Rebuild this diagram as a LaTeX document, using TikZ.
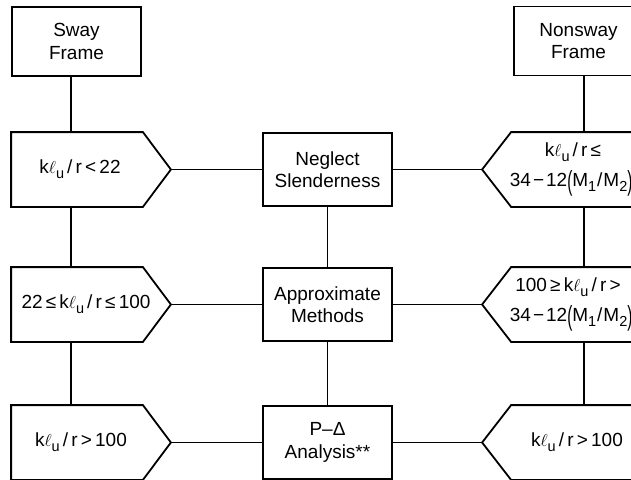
\documentclass[tikz,border=0pt]{standalone}
\usepackage{fontspec}
\usepackage{graphicx}
\setmainfont{Liberation Sans}
\usetikzlibrary{calc}
\newcommand\sbs[1]{\raisebox{-0.25em}{\fontsize{14.5}{14.5}\selectfont #1}}
\newcommand\kl{k$\ell$\sbs{u}}
\newcommand\tallpar[1]{\raisebox{-0.2em}{\scalebox{0.8}[1.45]{#1}}}
\newcommand\shiftx[2]{\hspace*{#1}#2\hspace*{-#1}}
\newcommand\mratio{34\hspace{2pt}−\hspace{2pt}12\tallpar{(}M\sbs{1}\hspace{1pt}/\hspace{1pt}M\sbs{2}\tallpar{)}\textsuperscript{*}}
\begin{document}
\begin{tikzpicture}[x=1pt,y=-1pt,line width=1.8pt,
  txt/.style={font=\fontsize{19}{22.5}\selectfont,align=center,inner sep=0pt},
  framebox/.style={txt,draw,rectangle,minimum width=129pt,minimum height=69pt},
  midbox/.style={txt,draw,rectangle,minimum width=129pt,minimum height=73pt},
  prect/.style={txt,rectangle,minimum width=130pt,minimum height=73pt}]
\useasboundingbox (0,0) rectangle (631,479);
\clip (0,0) rectangle (631,479);
\fill[white] (0,0) rectangle (631,479);
\coordinate (lx) at (71,0);
\coordinate (rx) at (584,0);
% frames
\node[framebox] (sway) at (76.5,41.5) {Sway\\Frame};
\node[framebox] (nons) at (578.5,41) {Nonsway\\Frame};
% left column
\node[prect] (L1) at (77,169.5) {\shiftx{3pt}{\kl\,/\,r\,<\,22}};
\node[prect] (L2) at (77,304.5) {\shiftx{9pt}{22\,≤\,\kl\,/\,r\,≤\,100}};
\node[prect] (L3) at (77,442.5) {\shiftx{4pt}{\kl\,/\,r\,>\,100}};
\foreach \n in {L1,L2,L3}{
  \draw[line join=miter] (\n.south west) -- (\n.north west) -- (\n.north east) -- ($(\n.east)+(28,0)$) coordinate (\n t) -- (\n.south east) -- cycle;
}
% middle column
\node[midbox] (M1) at (327.5,169.5) {Neglect\\Slenderness};
\node[midbox] (M2) at (327.5,304.5) {Approximate\\Methods};
\node[midbox] (M3) at (327.5,442.5) {P–Δ\\Analysis**};
% right column
\node[prect] (R1) at (577,169.5) {\shiftx{-4pt}{\kl\,/\,r\,≤}\\[7pt]\shiftx{-3pt}{\mratio}};
\node[prect] (R2) at (577,304.5) {\shiftx{-9pt}{100\,≥\,\kl\,/\,r\,>}\\[7pt]\shiftx{-3pt}{\mratio}};
\node[prect] (R3) at (577,442.5) {\kl\,/\,r\,>\,100};
\foreach \n in {R1,R2,R3}{
  \draw[line join=miter] (\n.north east) -- (\n.north west) -- ($(\n.west)+(-29,0)$) coordinate (\n t) -- (\n.south west) -- (\n.south east) -- cycle;
}
% connectors
\draw (sway.south -| lx) -- (L1.north -| lx);
\draw (L1.south -| lx) -- (L2.north -| lx);
\draw (L2.south -| lx) -- (L3.north -| lx);
\draw (M1.south) -- (M2.north);
\draw (M2.south) -- (M3.north);
\draw (nons.south -| rx) -- (R1.north -| rx);
\draw (R1.south -| rx) -- (R2.north -| rx);
\draw (R2.south -| rx) -- (R3.north -| rx);
\draw (L1t) -- (M1.west);
\draw (L2t) -- (M2.west);
\draw (L3t) -- (M3.west);
\draw (M1.east) -- (R1t);
\draw (M2.east) -- (R2t);
\draw (M3.east) -- (R3t);
\end{tikzpicture}
\end{document}
